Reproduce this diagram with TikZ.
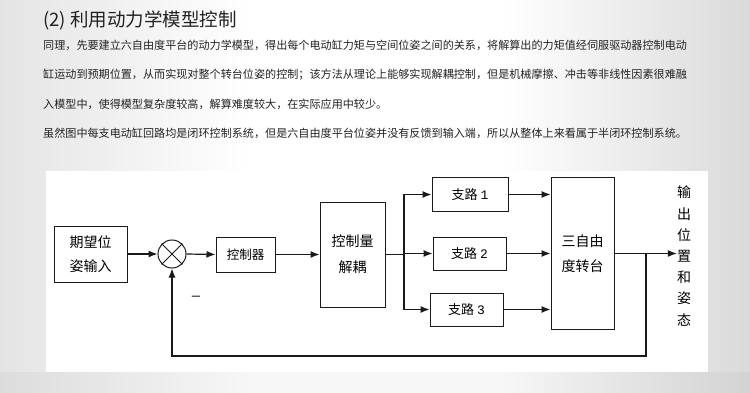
\documentclass[tikz,border=0pt]{standalone}
\usepackage{fontspec}
\setmainfont{Noto Sans CJK SC}
\newfontfamily\digitfont{Liberation Mono}
\newfontfamily\lsans{Liberation Sans}
\usetikzlibrary{arrows.meta}
\definecolor{txt}{HTML}{222222}
\definecolor{edgeL}{HTML}{E4E4E4}
\definecolor{edgeR}{HTML}{DADADA}
\definecolor{lnk}{HTML}{1A1A1A}
\begin{document}
\begin{tikzpicture}[x=1pt,y=-1pt,
  box/.style={draw=lnk,line width=1pt,inner sep=0pt,align=center},
  conn/.style={line width=1.2pt,draw=lnk,-{Latex[length=9pt,width=7pt]}},
  wire/.style={line width=1.2pt,draw=lnk},
  para/.style={anchor=west,inner sep=0pt,text=txt,font=\fontsize{11.1}{11.1}\selectfont}]
\useasboundingbox (0,0) rectangle (750,393);
% background
\shade[left color=edgeL,right color=white] (0,0) rectangle (250,393);
\fill[white] (249,0) rectangle (501,393);
\shade[left color=white,right color=edgeR] (500,0) rectangle (750,393);
\fill[black,opacity=0.03] (0,372) rectangle (750,393);
\fill[white] (46,171) rectangle (708,372);
% text
\node[anchor=west,inner sep=0pt,text=txt,font=\fontsize{18.5}{18.5}\selectfont] (title) at (43,20) {(2) 利用动力学模型控制};
\node[para] (p1) at (43,45) {同理，先要建立六自由度平台的动力学模型，得出每个电动缸力矩与空间位姿之间的关系，将解算出的力矩值经伺服驱动器控制电动};
\node[para] (p2) at (43,75) {缸运动到预期位置，从而实现对整个转台位姿的控制；该方法从理论上能够实现解耦控制，但是机械摩擦、冲击等非线性因素很难融};
\node[para] (p3) at (43,104) {入模型中，使得模型复杂度较高，解算难度较大，在实际应用中较少。};
\node[para] (p4) at (43,133) {虽然图中每支电动缸回路均是闭环控制系统，但是六自由度平台位姿并没有反馈到输入端，所以从整体上来看属于半闭环控制系统。};
% blocks
\node[box,minimum width=73pt,minimum height=56pt,font=\fontsize{14}{24}\selectfont] (in) at (90.5,254) {期望位\\姿输入};
\node[draw=lnk,line width=1pt,circle,minimum size=28pt,inner sep=0pt] (sum) at (172,254) {};
\draw[line width=1pt,lnk] (sum.north west) -- (sum.south east);
\draw[line width=1pt,lnk] (sum.north east) -- (sum.south west);
\node[box,minimum width=59pt,minimum height=35pt,font=\fontsize{12.5}{12.5}\selectfont] (ctrl) at (245.5,254.5) {控制器};
\node[box,minimum width=65pt,minimum height=105pt,font=\fontsize{14}{26}\selectfont] (dec) at (352.5,254.5) {控制量\\解耦};
\node[box,minimum width=76pt,minimum height=33pt,font=\fontsize{13}{13}\selectfont] (b1) at (470,194.5) {支路 {\digitfont 1}};
\node[box,minimum width=73pt,minimum height=33pt,font=\fontsize{13}{13}\selectfont] (b2) at (469.5,253.5) {支路 {\digitfont 2}};
\node[box,minimum width=73pt,minimum height=33pt,font=\fontsize{13}{13}\selectfont] (b3) at (466.5,309.5) {支路 {\digitfont 3}};
\node[box,minimum width=63pt,minimum height=151pt,font=\fontsize{14}{25}\selectfont] (plat) at (582.5,253.5) {三自由\\度转台};
\node[inner sep=0pt,align=center,font=\fontsize{14}{21.2}\selectfont] (out) at (684,256) {输\\出\\位\\置\\和\\姿\\态};
\node[inner sep=0pt,font=\lsans\fontsize{15}{15}\selectfont,text=lnk] (minus) at (196,298) {–};
% connectors
\coordinate (br) at (404,254.5);
\coordinate (fbtop) at (646,253.5);
\coordinate (fbbot) at (646,356);
\draw[conn] (in.east) -- (sum.west);
\draw[conn] (sum.east) -- (ctrl.west);
\draw[conn] (ctrl.east) -- (dec.west);
\draw[wire] (dec.east) -- (br);
\draw[wire] (br |- b1.west) -- (br |- b3.west);
\draw[conn] (br |- b1.west) -- (b1.west);
\draw[conn] (br |- b2.west) -- (b2.west);
\draw[conn] (br |- b3.west) -- (b3.west);
\draw[conn] (b1.east) -- (b1.east -| plat.west);
\draw[conn] (b2.east) -- (b2.east -| plat.west);
\draw[conn] (b3.east) -- (b3.east -| plat.west);
\draw[conn] (plat.east) -- (plat.east -| out.west);
\draw[conn] (fbtop) -- (fbbot) -| (sum.south);
\end{tikzpicture}
\end{document}
